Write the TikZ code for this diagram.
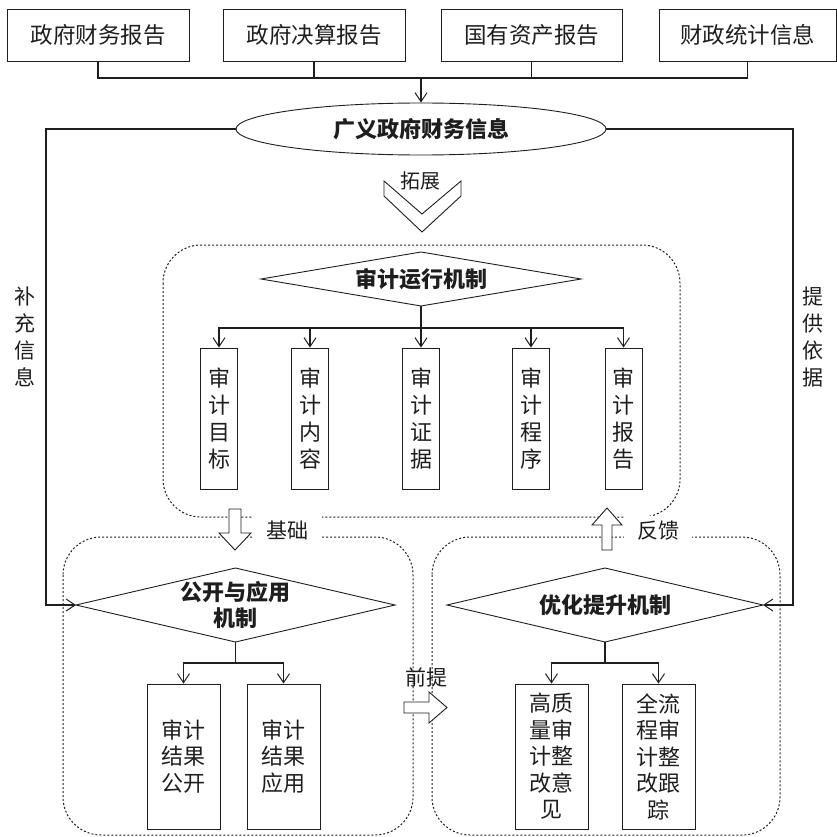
\documentclass[tikz,border=0pt]{standalone}
\usepackage{fontspec}
\setmainfont{Noto Sans CJK SC}
\usetikzlibrary{arrows.meta,shapes.geometric,calc}
\definecolor{ink}{HTML}{1E1E1E}
\begin{document}
\begin{tikzpicture}[x=1pt,y=-1pt,
  line/.style={draw=ink, line width=1.1pt},
  arr/.style={draw=ink, line width=1.1pt, -{Straight Barb[length=9pt,width=12pt,line width=1pt]}},
  topbox/.style={draw=ink, line width=0.9pt, minimum height=52pt, inner sep=0pt, text=ink, font=\fontsize{22.5}{27}\selectfont},
  vbox/.style={draw=ink, line width=0.9pt, minimum width=37pt, minimum height=141pt, inner sep=0pt, align=center, text=ink, font=\fontsize{22}{27}\selectfont},
  wbox/.style={draw=ink, line width=0.9pt, minimum width=73pt, minimum height=145pt, inner sep=0pt, align=center, text=ink, font=\fontsize{22}{26.5}\selectfont},
  diatext/.style={inner sep=0pt, align=center, text=ink, font=\fontsize{22}{26}\selectfont\bfseries},
  diaedge/.style={draw=ink, line width=0.9pt, line join=miter},
  zone/.style={draw=ink, line width=1pt, dash pattern=on 2pt off 2pt, rounded corners=38pt},
  hollow/.style={draw=ink, fill=white, line width=0.9pt, line join=miter},
  lbl/.style={text=ink, inner sep=0pt, font=\fontsize{21}{27}\selectfont, align=center},
  cover/.style={fill=white, text=ink, inner sep=0pt, font=\fontsize{21}{27}\selectfont},
]
\useasboundingbox (0,0) rectangle (836,837);

% zones
\draw[zone] (163,245) rectangle (680,517);
\draw[zone] (63,537) rectangle (413,835);
\draw[zone] (432,537) rectangle (780,835);

% top boxes
\node[topbox, minimum width=182pt] (b1) at (98,35) {政府财务报告};
\node[topbox, minimum width=182pt] (b2) at (314,35) {政府决算报告};
\node[topbox, minimum width=181pt] (b3) at (531.5,35) {国有资产报告};
\node[topbox, minimum width=177pt] (b4) at (747.5,35) {财政统计信息};

\coordinate (j) at (421,78);
\draw[line] (b1.south) -- (b1.south |- j) -- (b4.south |- j) -- (b4.south);
\draw[line] (b2.south) -- (b2.south |- j);
\draw[line] (b3.south) -- (b3.south |- j);

% ellipse
\node[ellipse, draw=ink, line width=0.9pt, minimum width=370pt, minimum height=52pt, inner sep=0pt, text=ink,
      font=\fontsize{22}{27}\selectfont\bfseries] (ell) at (421,129) {广义政府财务信息};
\draw[arr] (j) -- (ell.north);

% chevron
\draw[draw=ink, line width=0.9pt, line join=miter] (384,181) -- (384,196) -- (422,232) -- (461,196) -- (461,181) -- (422,214) -- cycle;
\node[lbl, font=\fontsize{20}{24}\selectfont] (tz) at (420,181) {拓展};

% audit operation mechanism (diamond)
\coordinate (d1w) at (261,279); \coordinate (d1n) at (421,252);
\coordinate (d1e) at (581,279); \coordinate (d1s) at (421,306);
\draw[diaedge] (d1w) -- (d1n) -- (d1e) -- (d1s) -- cycle;
\node[diatext] (d1) at (421,279) {审计运行机制};
\coordinate (J1) at (421,328);
\node[vbox] (v1) at (219,418.5) {审\\计\\目\\标};
\node[vbox] (v2) at (310,418.5) {审\\计\\内\\容};
\node[vbox] (v3) at (421,418.5) {审\\计\\证\\据};
\node[vbox] (v4) at (531,418.5) {审\\计\\程\\序};
\node[vbox] (v5) at (623.5,418.5) {审\\计\\报\\告};
\draw[line] (d1s) -- (J1);
\foreach \v in {v1,v2,v3,v4,v5} \draw[arr] (J1) -| (\v.north);

% labels between zones
\node[cover, minimum width=70pt, minimum height=31pt] (jc) at (287,530) {基础};
\node[cover, minimum width=68pt, minimum height=31pt] (fk) at (658,531) {反馈};
\draw[hollow] (229,509) -- (241,509) -- (241,533) -- (251,533) -- (235,550) -- (219,533) -- (229,533) -- cycle;
\draw[hollow] (607,508) -- (622,525) -- (612,525) -- (612,550) -- (602,550) -- (602,525) -- (592,525) -- cycle;

% lower left
\coordinate (d2w) at (76,605); \coordinate (d2n) at (235.5,568);
\coordinate (d2e) at (395,605); \coordinate (d2s) at (235.5,642);
\draw[diaedge] (d2w) -- (d2n) -- (d2e) -- (d2s) -- cycle;
\node[diatext] (d2) at (235.5,605) {公开与应用\\机制};
\coordinate (J2) at (235.5,663);
\node[wbox] (a1) at (183.5,756.5) {审计\\结果\\公开};
\node[wbox] (a2) at (283.5,756.5) {审计\\结果\\应用};
\draw[line] (d2s) -- (J2);
\draw[arr] (J2) -| (a1.north);
\draw[arr] (J2) -| (a2.north);

% lower right
\coordinate (d3w) at (447,605); \coordinate (d3n) at (605,568);
\coordinate (d3e) at (763,605); \coordinate (d3s) at (605,642);
\draw[diaedge] (d3w) -- (d3n) -- (d3e) -- (d3s) -- cycle;
\node[diatext] (d3) at (605,605) {优化提升机制};
\coordinate (J3) at (605,663);
\node[wbox] (c1) at (551.5,756.5) {高质\\量审\\计整\\改意\\见};
\node[wbox] (c2) at (658.5,756.5) {全流\\程审\\计整\\改跟\\踪};
\draw[line] (d3s) -- (J3);
\draw[arr] (J3) -| (c1.north);
\draw[arr] (J3) -| (c2.north);

% premise arrow
\node[lbl] (qt) at (426.5,677) {前提};
\draw[hollow] (404,702) -- (429,702) -- (429,692) -- (447,707.5) -- (429,723) -- (429,713) -- (404,713) -- cycle;

% side feedback lines
\coordinate (L) at (46,0);
\coordinate (R) at (793,0);
\draw[arr] (ell.west) -- (ell.west -| L) -- (d2w -| L) -- (d2w);
\draw[arr] (ell.east) -- (ell.east -| R) -- (d3e -| R) -- (d3e);
\node[lbl] (bc) at (25,337) {补\\充\\信\\息};
\node[lbl] (tg) at (813,337) {提\\供\\依\\据};
\end{tikzpicture}
\end{document}
